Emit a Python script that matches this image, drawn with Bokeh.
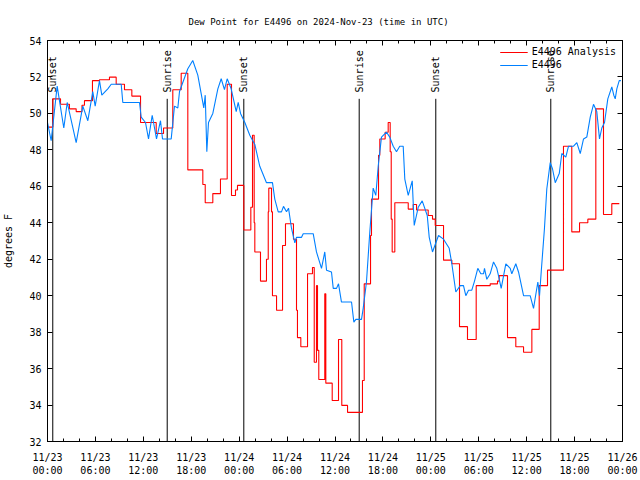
from math import pi
from bokeh.plotting import figure
from bokeh.models import (LinearAxis, FixedTicker, Range1d, Legend, LegendItem)
from bokeh.embed import file_html
from bokeh.resources import INLINE
from bokeh.core.properties import value

# hours since 2024-11-23 00:00 UTC
blue_hours = [0.0, 0.46, 1.21, 2.04, 2.47, 3.59, 4.42, 5.05, 5.67, 5.97,
              6.51, 6.80, 7.55, 7.98, 9.23, 9.43, 11.52, 11.73, 12.27, 12.65,
              13.11, 13.65, 14.15, 14.40, 15.49, 15.90, 16.32, 16.53, 17.57, 18.19,
              18.82, 19.57, 19.75, 19.95, 20.16, 20.70, 21.33, 21.75, 22.16, 22.50,
              23.00, 23.63, 23.88, 24.17, 24.71, 25.33, 25.96, 26.58, 27.42, 28.17,
              28.46, 28.89, 29.30, 29.55, 29.93, 30.18, 30.55, 30.97, 31.18, 31.81,
              32.02, 33.27, 33.68, 34.31, 34.72, 34.94, 35.56, 35.78, 36.19, 36.44,
              36.81, 38.07, 38.36, 38.61, 39.32, 39.53, 39.94, 40.36, 40.78, 41.11,
              41.41, 41.82, 42.45, 42.86, 43.29, 43.70, 44.11, 44.54, 44.74, 45.17,
              45.67, 45.92, 46.42, 46.92, 47.55, 47.80, 48.21, 48.96, 49.59, 50.30,
              50.63, 51.13, 51.68, 52.09, 52.38, 52.72, 53.13, 53.47, 53.88, 54.26,
              54.60, 54.72, 55.01, 55.43, 55.85, 56.26, 56.47, 56.81, 57.39, 57.94,
              58.14, 58.64, 58.98, 59.61, 60.44, 60.86, 61.40, 61.61, 61.82, 62.23,
              62.52, 62.95, 63.24, 63.58, 64.08, 64.40, 64.90, 65.24, 65.87, 66.28,
              66.71, 67.12, 67.53, 67.96, 68.37, 68.78, 69.12, 69.41, 69.75, 70.16,
              70.66, 70.91, 71.09, 71.29, 71.59, 71.80]
blue_temps = [49.5, 48.5, 51.5, 49.2, 50.6, 48.4, 50.4, 49.6, 51.2, 50.4,
              51.8, 51.0, 51.35, 51.6, 51.6, 50.6, 50.6, 49.8, 49.5, 48.6,
              49.9, 48.6, 49.6, 48.6, 48.6, 50.4, 50.3, 51.2, 52.45, 52.9,
              52.1, 50.3, 51.0, 47.9, 49.5, 50.0, 51.35, 51.9, 51.3, 51.9,
              51.35, 50.1, 50.6, 50.0, 49.5, 48.8, 48.3, 47.1, 46.2, 46.2,
              45.3, 44.6, 44.6, 44.9, 44.6, 44.8, 43.7, 42.9, 43.2, 43.2,
              43.4, 43.4, 42.4, 41.5, 42.4, 41.4, 41.3, 40.4, 40.4, 40.65,
              39.65, 39.65, 38.55, 38.7, 38.7, 39.3, 40.75, 43.5, 45.9, 45.5,
              47.1, 48.7, 48.97, 48.7, 48.2, 47.9, 48.2, 48.2, 46.4, 45.5,
              46.3, 43.85, 44.85, 45.2, 44.4, 43.2, 42.4, 43.3, 43.1, 42.6,
              41.75, 40.2, 40.55, 40.55, 40.0, 40.3, 40.3, 40.8, 41.5, 41.2,
              41.2, 41.5, 40.9, 41.2, 41.85, 41.5, 41.1, 40.4, 41.75, 41.5,
              41.2, 41.75, 41.3, 40.0, 40.0, 39.3, 40.75, 40.0, 41.3, 43.7,
              45.85, 47.3, 46.95, 46.2, 46.7, 47.8, 47.6, 48.2, 48.2, 48.4,
              47.8, 48.6, 48.7, 49.8, 50.5, 50.1, 48.6, 49.2, 49.5, 50.8,
              51.45, 51.0, 50.8, 51.35, 51.8, 51.8]

red_hours = [0.0, 0.66, 1.63, 2.75, 3.59, 4.32, 4.63, 5.63, 6.51, 7.76,
             8.60, 9.64, 10.56, 11.65, 13.61, 14.53, 15.69, 16.74, 17.57, 19.45,
             19.75, 20.70, 21.66, 22.50, 23.04, 23.54, 23.79, 24.58, 25.46, 25.67,
             25.88, 25.96, 26.67, 27.42, 27.64, 27.71, 28.05, 28.17, 28.68, 29.43,
             29.80, 30.80, 31.18, 31.30, 31.72, 32.56, 33.18, 33.40, 33.68, 33.81,
             33.97, 34.72, 34.85, 35.65, 36.44, 36.85, 37.57, 39.44, 39.66, 40.45,
             40.57, 41.45, 41.61, 42.28, 42.66, 42.91, 43.04, 43.16, 43.49, 45.17,
             45.79, 46.21, 47.67, 48.21, 48.55, 49.59, 50.63, 51.59, 52.59, 53.68,
             55.43, 56.35, 56.56, 57.60, 58.64, 59.61, 60.65, 61.57, 62.61, 64.61,
             65.65, 66.62, 67.66, 68.66, 69.62, 70.66, 71.60]
red_temps = [49.25, 50.8, 50.5, 50.25, 50.1, 50.45, 50.7, 51.8, 51.85, 51.99,
             51.6, 51.3, 50.95, 49.5, 48.9, 49.2, 51.3, 52.2, 46.9, 46.1,
             45.1, 45.6, 46.4, 51.6, 45.5, 45.8, 46.05, 43.6, 44.85, 48.8,
             44.0, 42.4, 40.8, 42.0, 44.6, 45.9, 44.6, 40.0, 39.2, 42.75,
             43.95, 43.1, 39.2, 37.7, 37.2, 41.2, 41.55, 36.35, 40.55, 37.0,
             35.4, 40.1, 35.2, 34.25, 37.6, 33.98, 33.6, 35.35, 40.65, 43.3,
             45.3, 47.7, 48.6, 48.97, 49.5, 47.9, 44.2, 42.4, 45.1, 44.75,
             45.0, 44.7, 44.4, 44.2, 43.85, 41.95, 41.75, 38.3, 37.6, 40.55,
             40.65, 40.8, 41.1, 37.7, 37.2, 36.9, 38.15, 40.55, 41.4, 48.2,
             43.5, 44.0, 44.2, 50.25, 44.45, 45.05, 45.05]

sun_hours = [0.66, 14.99, 24.58, 39.03, 48.62, 63.02]
sun_labels = ["Sunset", "Sunrise", "Sunset", "Sunrise", "Sunset", "Sunrise"]
sun_line_top = 50.8
sun_text_base = 51.15

xtick_hours = [0, 6, 12, 18, 24, 30, 36, 42, 48, 54, 60, 66, 72]
xtick_labels = ["11/23\n00:00", "11/23\n06:00", "11/23\n12:00", "11/23\n18:00",
                "11/24\n00:00", "11/24\n06:00", "11/24\n12:00", "11/24\n18:00",
                "11/25\n00:00", "11/25\n06:00", "11/25\n12:00", "11/25\n18:00",
                "11/26\n00:00"]
xminor_hours = list(range(0, 73, 2))
ytick_vals = [32, 34, 36, 38, 40, 42, 44, 46, 48, 50, 52, 54]

FONT = "DejaVu Sans Mono"
RED = "#ff0000"
BLUE = "#0080ff"

p = figure(width=640, height=480, output_backend="svg", toolbar_location=None,
           x_range=Range1d(0, 72), y_range=Range1d(32, 54),
           title="Dew Point for E4496 on 2024-Nov-23 (time in UTC)",
           min_border_left=47, min_border_right=18, min_border_top=40,
           min_border_bottom=39)
p.title.align = "left"
p.title.text_font = FONT
p.title.text_font_size = "9px"
p.title.text_font_style = "normal"
p.title.text_color = "black"
p.title.offset = 141
p.title.standoff = 28

p.grid.visible = False
p.outline_line_color = "black"
p.outline_line_width = 1
p.background_fill_color = "white"
p.border_fill_color = "white"

xt = FixedTicker(ticks=xtick_hours, minor_ticks=xminor_hours)
yt = FixedTicker(ticks=ytick_vals, minor_ticks=[])

def style_axis(ax, standoff):
    ax.axis_line_color = "black"
    ax.major_tick_in = 5
    ax.major_tick_out = 0
    ax.minor_tick_in = 3
    ax.minor_tick_out = 0
    ax.major_tick_line_color = "black"
    ax.minor_tick_line_color = "black"
    ax.major_label_text_font = FONT
    ax.major_label_text_font_size = "10px"
    ax.major_label_text_color = "black"
    ax.major_label_standoff = standoff

def mirror_axis(ax, ticks):
    ax.axis_line_color = "black"
    ax.major_tick_in = 5
    ax.major_tick_out = 0
    ax.minor_tick_in = 3
    ax.minor_tick_out = 0
    ax.major_tick_line_color = "black"
    ax.minor_tick_line_color = "black"
    ax.major_label_overrides = {t: "" for t in ticks}
    ax.major_label_text_color = None
    ax.major_label_text_alpha = 0
    ax.major_label_text_font_size = "1px"
    ax.major_label_standoff = 0

xa = p.xaxis[0]
xa.ticker = xt
xa.major_label_overrides = {h: lab for h, lab in zip(xtick_hours, xtick_labels)}
style_axis(xa, 10)

ya = p.yaxis[0]
ya.ticker = yt
style_axis(ya, 6)
ya.minor_tick_in = 0
ya.axis_label = "degrees F"
ya.axis_label_text_font = FONT
ya.axis_label_text_font_size = "10px"
ya.axis_label_text_font_style = "normal"
ya.axis_label_text_color = "black"
ya.axis_label_standoff = 12

top = LinearAxis(ticker=xt)
mirror_axis(top, xtick_hours)
p.add_layout(top, "above")
right = LinearAxis(ticker=yt)
mirror_axis(right, ytick_vals)
right.minor_tick_in = 0
p.add_layout(right, "right")

# sunrise / sunset markers
p.segment(x0=sun_hours, y0=[32] * len(sun_hours), x1=sun_hours,
          y1=[sun_line_top] * len(sun_hours), line_color="black", line_width=1)
p.text(x=sun_hours, y=[sun_text_base] * len(sun_hours), text=sun_labels,
       angle=pi / 2, text_align="left", text_baseline="middle",
       text_font=value(FONT), text_font_size="10px", text_color="black")

r_red = p.step(red_hours, red_temps, mode="after", line_color=RED, line_width=1.1)
r_blue = p.line(blue_hours, blue_temps, line_color=BLUE, line_width=1.1)

legend = Legend(items=[LegendItem(label="E4496 Analysis", renderers=[r_red]),
                       LegendItem(label="E4496", renderers=[r_blue])],
                location="top_right", border_line_alpha=0,
                background_fill_alpha=0, label_text_font=FONT,
                label_text_font_size="10px", label_text_color="black",
                glyph_width=28, glyph_height=10,
                label_height=10, spacing=2, padding=2, margin=4,
                label_standoff=4)
p.add_layout(legend)

open("out.html", "w").write(file_html(p, INLINE))
